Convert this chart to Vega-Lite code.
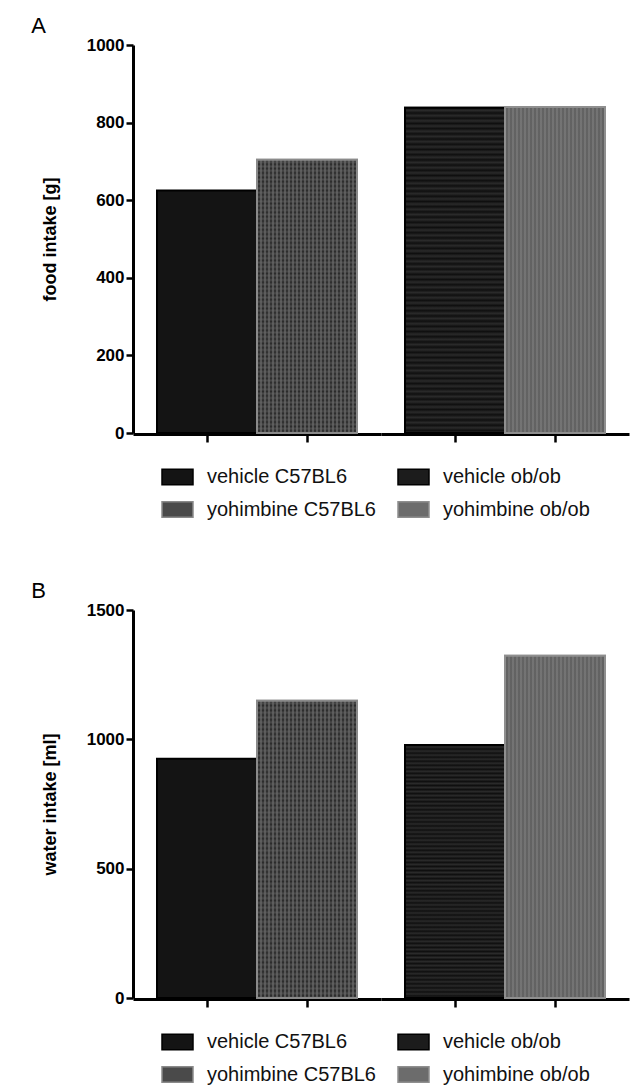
{
  "$schema": "https://vega.github.io/schema/vega-lite/v6.json",
  "background": "white",
  "padding": {"left": 31, "top": 15, "right": 2, "bottom": 0},
  "datasets": {
    "food": [
      {"strain": "C57BL6", "treatment": "vehicle", "group": "vehicle C57BL6", "value": 625},
      {"strain": "C57BL6", "treatment": "yohimbine", "group": "yohimbine C57BL6", "value": 704},
      {"strain": "ob/ob", "treatment": "vehicle", "group": "vehicle ob/ob", "value": 838},
      {"strain": "ob/ob", "treatment": "yohimbine", "group": "yohimbine ob/ob", "value": 840}
    ],
    "water": [
      {"strain": "C57BL6", "treatment": "vehicle", "group": "vehicle C57BL6", "value": 925},
      {"strain": "C57BL6", "treatment": "yohimbine", "group": "yohimbine C57BL6", "value": 1149},
      {"strain": "ob/ob", "treatment": "vehicle", "group": "vehicle ob/ob", "value": 978},
      {"strain": "ob/ob", "treatment": "yohimbine", "group": "yohimbine ob/ob", "value": 1323}
    ]
  },
  "vconcat": [
    {
      "data": {"name": "food"},
      "title": {"text": "A", "anchor": "start", "fontSize": 22, "fontWeight": "normal", "font": "Liberation Sans", "dx": -10, "offset": -2},
      "facet": {
        "column": {"field": "strain", "type": "nominal", "sort": ["C57BL6", "ob/ob"], "header": {"title": null, "labels": false}}
      },
      "spacing": 0,
      "spec": {
        "width": 248,
        "height": 388,
        "encoding": {
          "x": {"field": "treatment", "type": "nominal", "sort": ["vehicle", "yohimbine"], "scale": {"paddingInner": 0, "paddingOuter": 0.24},
                "axis": {"labels": false, "title": null, "ticks": true, "tickSize": 8, "tickWidth": 2.5, "domainWidth": 3}},
          "y": {"field": "value", "type": "quantitative", "scale": {"domain": [0, 1000], "nice": false},
                "axis": {"title": "food intake [g]", "values": [0, 200, 400, 600, 800, 1000], "format": "d"}}
        },
        "layer": [
          {
            "mark": {"type": "bar", "strokeWidth": 2},
            "encoding": {
              "fill": {"field": "group", "type": "nominal",
                       "scale": {"domain": ["vehicle C57BL6", "yohimbine C57BL6", "vehicle ob/ob", "yohimbine ob/ob"],
                                 "range": ["#141414", "#4a4a4a", "#1c1c1c", "#6c6c6c"]},
                       "legend": {"title": null, "orient": "none", "legendX": 28, "legendY": 415}},
              "stroke": {"field": "group", "type": "nominal",
                         "scale": {"domain": ["vehicle C57BL6", "yohimbine C57BL6", "vehicle ob/ob", "yohimbine ob/ob"],
                                   "range": ["#000000", "#8a8a8a", "#000000", "#8f8f8f"]},
                         "legend": {"title": null, "orient": "none", "legendX": 28, "legendY": 415}}
            }
          },
          {
            "transform": [{"filter": "datum.group === 'yohimbine C57BL6'"}],
            "mark": {"type": "bar", "strokeWidth": 0, "fill": {"gradient": "linear", "x1": 0, "y1": 0, "x2": 1, "y2": 0, "stops": [
              {"offset": 0, "color": "#6a6a6a"}, {"offset": 0.02, "color": "#161616"}, {"offset": 0.04, "color": "#6a6a6a"}, {"offset": 0.06, "color": "#161616"}, {"offset": 0.08, "color": "#6a6a6a"}, {"offset": 0.1, "color": "#161616"}, {"offset": 0.12, "color": "#6a6a6a"}, {"offset": 0.14, "color": "#161616"}, {"offset": 0.16, "color": "#6a6a6a"}, {"offset": 0.18, "color": "#161616"}, {"offset": 0.2, "color": "#6a6a6a"}, {"offset": 0.22, "color": "#161616"}, {"offset": 0.24, "color": "#6a6a6a"}, {"offset": 0.26, "color": "#161616"}, {"offset": 0.28, "color": "#6a6a6a"}, {"offset": 0.3, "color": "#161616"}, {"offset": 0.32, "color": "#6a6a6a"}, {"offset": 0.34, "color": "#161616"}, {"offset": 0.36, "color": "#6a6a6a"}, {"offset": 0.38, "color": "#161616"}, {"offset": 0.4, "color": "#6a6a6a"}, {"offset": 0.42, "color": "#161616"}, {"offset": 0.44, "color": "#6a6a6a"}, {"offset": 0.46, "color": "#161616"}, {"offset": 0.48, "color": "#6a6a6a"}, {"offset": 0.5, "color": "#161616"}, {"offset": 0.52, "color": "#6a6a6a"}, {"offset": 0.54, "color": "#161616"}, {"offset": 0.56, "color": "#6a6a6a"}, {"offset": 0.58, "color": "#161616"}, {"offset": 0.6, "color": "#6a6a6a"}, {"offset": 0.62, "color": "#161616"}, {"offset": 0.64, "color": "#6a6a6a"}, {"offset": 0.66, "color": "#161616"}, {"offset": 0.68, "color": "#6a6a6a"}, {"offset": 0.7, "color": "#161616"}, {"offset": 0.72, "color": "#6a6a6a"}, {"offset": 0.74, "color": "#161616"}, {"offset": 0.76, "color": "#6a6a6a"}, {"offset": 0.78, "color": "#161616"}, {"offset": 0.8, "color": "#6a6a6a"}, {"offset": 0.82, "color": "#161616"}, {"offset": 0.84, "color": "#6a6a6a"}, {"offset": 0.86, "color": "#161616"}, {"offset": 0.88, "color": "#6a6a6a"}, {"offset": 0.9, "color": "#161616"}, {"offset": 0.92, "color": "#6a6a6a"}, {"offset": 0.94, "color": "#161616"}, {"offset": 0.96, "color": "#6a6a6a"}, {"offset": 0.98, "color": "#161616"}, {"offset": 1, "color": "#6a6a6a"}
            ]}}
          },
          {
            "transform": [{"filter": "datum.group === 'yohimbine C57BL6'"}],
            "mark": {"type": "bar", "strokeWidth": 2, "stroke": "#8a8a8a", "fill": {"gradient": "linear", "x1": 0, "y1": 0, "x2": 0, "y2": 1, "stops": [
              {"offset": 0, "color": "rgba(106,106,106,0)"}, {"offset": 0.008, "color": "rgba(106,106,106,0.5)"}, {"offset": 0.016, "color": "rgba(106,106,106,0)"}, {"offset": 0.024, "color": "rgba(106,106,106,0.5)"}, {"offset": 0.032, "color": "rgba(106,106,106,0)"}, {"offset": 0.04, "color": "rgba(106,106,106,0.5)"}, {"offset": 0.048, "color": "rgba(106,106,106,0)"}, {"offset": 0.056, "color": "rgba(106,106,106,0.5)"}, {"offset": 0.064, "color": "rgba(106,106,106,0)"}, {"offset": 0.072, "color": "rgba(106,106,106,0.5)"}, {"offset": 0.08, "color": "rgba(106,106,106,0)"}, {"offset": 0.088, "color": "rgba(106,106,106,0.5)"}, {"offset": 0.096, "color": "rgba(106,106,106,0)"}, {"offset": 0.104, "color": "rgba(106,106,106,0.5)"}, {"offset": 0.112, "color": "rgba(106,106,106,0)"}, {"offset": 0.12, "color": "rgba(106,106,106,0.5)"}, {"offset": 0.128, "color": "rgba(106,106,106,0)"}, {"offset": 0.136, "color": "rgba(106,106,106,0.5)"}, {"offset": 0.144, "color": "rgba(106,106,106,0)"}, {"offset": 0.152, "color": "rgba(106,106,106,0.5)"}, {"offset": 0.16, "color": "rgba(106,106,106,0)"}, {"offset": 0.168, "color": "rgba(106,106,106,0.5)"}, {"offset": 0.176, "color": "rgba(106,106,106,0)"}, {"offset": 0.184, "color": "rgba(106,106,106,0.5)"}, {"offset": 0.192, "color": "rgba(106,106,106,0)"},
              {"offset": 0.2, "color": "rgba(106,106,106,0.5)"}, {"offset": 0.208, "color": "rgba(106,106,106,0)"}, {"offset": 0.216, "color": "rgba(106,106,106,0.5)"}, {"offset": 0.224, "color": "rgba(106,106,106,0)"}, {"offset": 0.232, "color": "rgba(106,106,106,0.5)"}, {"offset": 0.24, "color": "rgba(106,106,106,0)"}, {"offset": 0.248, "color": "rgba(106,106,106,0.5)"}, {"offset": 0.256, "color": "rgba(106,106,106,0)"}, {"offset": 0.264, "color": "rgba(106,106,106,0.5)"}, {"offset": 0.272, "color": "rgba(106,106,106,0)"}, {"offset": 0.28, "color": "rgba(106,106,106,0.5)"}, {"offset": 0.288, "color": "rgba(106,106,106,0)"}, {"offset": 0.296, "color": "rgba(106,106,106,0.5)"}, {"offset": 0.304, "color": "rgba(106,106,106,0)"}, {"offset": 0.312, "color": "rgba(106,106,106,0.5)"}, {"offset": 0.32, "color": "rgba(106,106,106,0)"}, {"offset": 0.328, "color": "rgba(106,106,106,0.5)"}, {"offset": 0.336, "color": "rgba(106,106,106,0)"}, {"offset": 0.344, "color": "rgba(106,106,106,0.5)"}, {"offset": 0.352, "color": "rgba(106,106,106,0)"}, {"offset": 0.36, "color": "rgba(106,106,106,0.5)"}, {"offset": 0.368, "color": "rgba(106,106,106,0)"}, {"offset": 0.376, "color": "rgba(106,106,106,0.5)"}, {"offset": 0.384, "color": "rgba(106,106,106,0)"}, {"offset": 0.392, "color": "rgba(106,106,106,0.5)"},
              {"offset": 0.4, "color": "rgba(106,106,106,0)"}, {"offset": 0.408, "color": "rgba(106,106,106,0.5)"}, {"offset": 0.416, "color": "rgba(106,106,106,0)"}, {"offset": 0.424, "color": "rgba(106,106,106,0.5)"}, {"offset": 0.432, "color": "rgba(106,106,106,0)"}, {"offset": 0.44, "color": "rgba(106,106,106,0.5)"}, {"offset": 0.448, "color": "rgba(106,106,106,0)"}, {"offset": 0.456, "color": "rgba(106,106,106,0.5)"}, {"offset": 0.464, "color": "rgba(106,106,106,0)"}, {"offset": 0.472, "color": "rgba(106,106,106,0.5)"}, {"offset": 0.48, "color": "rgba(106,106,106,0)"}, {"offset": 0.488, "color": "rgba(106,106,106,0.5)"}, {"offset": 0.496, "color": "rgba(106,106,106,0)"}, {"offset": 0.504, "color": "rgba(106,106,106,0.5)"}, {"offset": 0.512, "color": "rgba(106,106,106,0)"}, {"offset": 0.52, "color": "rgba(106,106,106,0.5)"}, {"offset": 0.528, "color": "rgba(106,106,106,0)"}, {"offset": 0.536, "color": "rgba(106,106,106,0.5)"}, {"offset": 0.544, "color": "rgba(106,106,106,0)"}, {"offset": 0.552, "color": "rgba(106,106,106,0.5)"}, {"offset": 0.56, "color": "rgba(106,106,106,0)"}, {"offset": 0.568, "color": "rgba(106,106,106,0.5)"}, {"offset": 0.576, "color": "rgba(106,106,106,0)"}, {"offset": 0.584, "color": "rgba(106,106,106,0.5)"}, {"offset": 0.592, "color": "rgba(106,106,106,0)"},
              {"offset": 0.6, "color": "rgba(106,106,106,0.5)"}, {"offset": 0.608, "color": "rgba(106,106,106,0)"}, {"offset": 0.616, "color": "rgba(106,106,106,0.5)"}, {"offset": 0.624, "color": "rgba(106,106,106,0)"}, {"offset": 0.632, "color": "rgba(106,106,106,0.5)"}, {"offset": 0.64, "color": "rgba(106,106,106,0)"}, {"offset": 0.648, "color": "rgba(106,106,106,0.5)"}, {"offset": 0.656, "color": "rgba(106,106,106,0)"}, {"offset": 0.664, "color": "rgba(106,106,106,0.5)"}, {"offset": 0.672, "color": "rgba(106,106,106,0)"}, {"offset": 0.68, "color": "rgba(106,106,106,0.5)"}, {"offset": 0.688, "color": "rgba(106,106,106,0)"}, {"offset": 0.696, "color": "rgba(106,106,106,0.5)"}, {"offset": 0.704, "color": "rgba(106,106,106,0)"}, {"offset": 0.712, "color": "rgba(106,106,106,0.5)"}, {"offset": 0.72, "color": "rgba(106,106,106,0)"}, {"offset": 0.728, "color": "rgba(106,106,106,0.5)"}, {"offset": 0.736, "color": "rgba(106,106,106,0)"}, {"offset": 0.744, "color": "rgba(106,106,106,0.5)"}, {"offset": 0.752, "color": "rgba(106,106,106,0)"}, {"offset": 0.76, "color": "rgba(106,106,106,0.5)"}, {"offset": 0.768, "color": "rgba(106,106,106,0)"}, {"offset": 0.776, "color": "rgba(106,106,106,0.5)"}, {"offset": 0.784, "color": "rgba(106,106,106,0)"}, {"offset": 0.792, "color": "rgba(106,106,106,0.5)"},
              {"offset": 0.8, "color": "rgba(106,106,106,0)"}, {"offset": 0.808, "color": "rgba(106,106,106,0.5)"}, {"offset": 0.816, "color": "rgba(106,106,106,0)"}, {"offset": 0.824, "color": "rgba(106,106,106,0.5)"}, {"offset": 0.832, "color": "rgba(106,106,106,0)"}, {"offset": 0.84, "color": "rgba(106,106,106,0.5)"}, {"offset": 0.848, "color": "rgba(106,106,106,0)"}, {"offset": 0.856, "color": "rgba(106,106,106,0.5)"}, {"offset": 0.864, "color": "rgba(106,106,106,0)"}, {"offset": 0.872, "color": "rgba(106,106,106,0.5)"}, {"offset": 0.88, "color": "rgba(106,106,106,0)"}, {"offset": 0.888, "color": "rgba(106,106,106,0.5)"}, {"offset": 0.896, "color": "rgba(106,106,106,0)"}, {"offset": 0.904, "color": "rgba(106,106,106,0.5)"}, {"offset": 0.912, "color": "rgba(106,106,106,0)"}, {"offset": 0.92, "color": "rgba(106,106,106,0.5)"}, {"offset": 0.928, "color": "rgba(106,106,106,0)"}, {"offset": 0.936, "color": "rgba(106,106,106,0.5)"}, {"offset": 0.944, "color": "rgba(106,106,106,0)"}, {"offset": 0.952, "color": "rgba(106,106,106,0.5)"}, {"offset": 0.96, "color": "rgba(106,106,106,0)"}, {"offset": 0.968, "color": "rgba(106,106,106,0.5)"}, {"offset": 0.976, "color": "rgba(106,106,106,0)"}, {"offset": 0.984, "color": "rgba(106,106,106,0.5)"}, {"offset": 0.992, "color": "rgba(106,106,106,0)"},
              {"offset": 1, "color": "rgba(106,106,106,0.5)"}
            ]}}
          },
          {
            "transform": [{"filter": "datum.group === 'vehicle ob/ob'"}],
            "mark": {"type": "bar", "strokeWidth": 2, "stroke": "#000000", "fill": {"gradient": "linear", "x1": 0, "y1": 0, "x2": 0, "y2": 1, "stops": [
              {"offset": 0, "color": "#0f0f0f"}, {"offset": 0.008, "color": "#2a2a2a"}, {"offset": 0.016, "color": "#0f0f0f"}, {"offset": 0.024, "color": "#2a2a2a"}, {"offset": 0.032, "color": "#0f0f0f"}, {"offset": 0.04, "color": "#2a2a2a"}, {"offset": 0.048, "color": "#0f0f0f"}, {"offset": 0.056, "color": "#2a2a2a"}, {"offset": 0.064, "color": "#0f0f0f"}, {"offset": 0.072, "color": "#2a2a2a"}, {"offset": 0.08, "color": "#0f0f0f"}, {"offset": 0.088, "color": "#2a2a2a"}, {"offset": 0.096, "color": "#0f0f0f"}, {"offset": 0.104, "color": "#2a2a2a"}, {"offset": 0.112, "color": "#0f0f0f"}, {"offset": 0.12, "color": "#2a2a2a"}, {"offset": 0.128, "color": "#0f0f0f"}, {"offset": 0.136, "color": "#2a2a2a"}, {"offset": 0.144, "color": "#0f0f0f"}, {"offset": 0.152, "color": "#2a2a2a"}, {"offset": 0.16, "color": "#0f0f0f"}, {"offset": 0.168, "color": "#2a2a2a"}, {"offset": 0.176, "color": "#0f0f0f"}, {"offset": 0.184, "color": "#2a2a2a"}, {"offset": 0.192, "color": "#0f0f0f"},
              {"offset": 0.2, "color": "#2a2a2a"}, {"offset": 0.208, "color": "#0f0f0f"}, {"offset": 0.216, "color": "#2a2a2a"}, {"offset": 0.224, "color": "#0f0f0f"}, {"offset": 0.232, "color": "#2a2a2a"}, {"offset": 0.24, "color": "#0f0f0f"}, {"offset": 0.248, "color": "#2a2a2a"}, {"offset": 0.256, "color": "#0f0f0f"}, {"offset": 0.264, "color": "#2a2a2a"}, {"offset": 0.272, "color": "#0f0f0f"}, {"offset": 0.28, "color": "#2a2a2a"}, {"offset": 0.288, "color": "#0f0f0f"}, {"offset": 0.296, "color": "#2a2a2a"}, {"offset": 0.304, "color": "#0f0f0f"}, {"offset": 0.312, "color": "#2a2a2a"}, {"offset": 0.32, "color": "#0f0f0f"}, {"offset": 0.328, "color": "#2a2a2a"}, {"offset": 0.336, "color": "#0f0f0f"}, {"offset": 0.344, "color": "#2a2a2a"}, {"offset": 0.352, "color": "#0f0f0f"}, {"offset": 0.36, "color": "#2a2a2a"}, {"offset": 0.368, "color": "#0f0f0f"}, {"offset": 0.376, "color": "#2a2a2a"}, {"offset": 0.384, "color": "#0f0f0f"}, {"offset": 0.392, "color": "#2a2a2a"},
              {"offset": 0.4, "color": "#0f0f0f"}, {"offset": 0.408, "color": "#2a2a2a"}, {"offset": 0.416, "color": "#0f0f0f"}, {"offset": 0.424, "color": "#2a2a2a"}, {"offset": 0.432, "color": "#0f0f0f"}, {"offset": 0.44, "color": "#2a2a2a"}, {"offset": 0.448, "color": "#0f0f0f"}, {"offset": 0.456, "color": "#2a2a2a"}, {"offset": 0.464, "color": "#0f0f0f"}, {"offset": 0.472, "color": "#2a2a2a"}, {"offset": 0.48, "color": "#0f0f0f"}, {"offset": 0.488, "color": "#2a2a2a"}, {"offset": 0.496, "color": "#0f0f0f"}, {"offset": 0.504, "color": "#2a2a2a"}, {"offset": 0.512, "color": "#0f0f0f"}, {"offset": 0.52, "color": "#2a2a2a"}, {"offset": 0.528, "color": "#0f0f0f"}, {"offset": 0.536, "color": "#2a2a2a"}, {"offset": 0.544, "color": "#0f0f0f"}, {"offset": 0.552, "color": "#2a2a2a"}, {"offset": 0.56, "color": "#0f0f0f"}, {"offset": 0.568, "color": "#2a2a2a"}, {"offset": 0.576, "color": "#0f0f0f"}, {"offset": 0.584, "color": "#2a2a2a"}, {"offset": 0.592, "color": "#0f0f0f"},
              {"offset": 0.6, "color": "#2a2a2a"}, {"offset": 0.608, "color": "#0f0f0f"}, {"offset": 0.616, "color": "#2a2a2a"}, {"offset": 0.624, "color": "#0f0f0f"}, {"offset": 0.632, "color": "#2a2a2a"}, {"offset": 0.64, "color": "#0f0f0f"}, {"offset": 0.648, "color": "#2a2a2a"}, {"offset": 0.656, "color": "#0f0f0f"}, {"offset": 0.664, "color": "#2a2a2a"}, {"offset": 0.672, "color": "#0f0f0f"}, {"offset": 0.68, "color": "#2a2a2a"}, {"offset": 0.688, "color": "#0f0f0f"}, {"offset": 0.696, "color": "#2a2a2a"}, {"offset": 0.704, "color": "#0f0f0f"}, {"offset": 0.712, "color": "#2a2a2a"}, {"offset": 0.72, "color": "#0f0f0f"}, {"offset": 0.728, "color": "#2a2a2a"}, {"offset": 0.736, "color": "#0f0f0f"}, {"offset": 0.744, "color": "#2a2a2a"}, {"offset": 0.752, "color": "#0f0f0f"}, {"offset": 0.76, "color": "#2a2a2a"}, {"offset": 0.768, "color": "#0f0f0f"}, {"offset": 0.776, "color": "#2a2a2a"}, {"offset": 0.784, "color": "#0f0f0f"}, {"offset": 0.792, "color": "#2a2a2a"},
              {"offset": 0.8, "color": "#0f0f0f"}, {"offset": 0.808, "color": "#2a2a2a"}, {"offset": 0.816, "color": "#0f0f0f"}, {"offset": 0.824, "color": "#2a2a2a"}, {"offset": 0.832, "color": "#0f0f0f"}, {"offset": 0.84, "color": "#2a2a2a"}, {"offset": 0.848, "color": "#0f0f0f"}, {"offset": 0.856, "color": "#2a2a2a"}, {"offset": 0.864, "color": "#0f0f0f"}, {"offset": 0.872, "color": "#2a2a2a"}, {"offset": 0.88, "color": "#0f0f0f"}, {"offset": 0.888, "color": "#2a2a2a"}, {"offset": 0.896, "color": "#0f0f0f"}, {"offset": 0.904, "color": "#2a2a2a"}, {"offset": 0.912, "color": "#0f0f0f"}, {"offset": 0.92, "color": "#2a2a2a"}, {"offset": 0.928, "color": "#0f0f0f"}, {"offset": 0.936, "color": "#2a2a2a"}, {"offset": 0.944, "color": "#0f0f0f"}, {"offset": 0.952, "color": "#2a2a2a"}, {"offset": 0.96, "color": "#0f0f0f"}, {"offset": 0.968, "color": "#2a2a2a"}, {"offset": 0.976, "color": "#0f0f0f"}, {"offset": 0.984, "color": "#2a2a2a"}, {"offset": 0.992, "color": "#0f0f0f"},
              {"offset": 1, "color": "#2a2a2a"}
            ]}}
          },
          {
            "transform": [{"filter": "datum.group === 'yohimbine ob/ob'"}],
            "mark": {"type": "bar", "strokeWidth": 2, "stroke": "#8f8f8f", "fill": {"gradient": "linear", "x1": 0, "y1": 0, "x2": 1, "y2": 0, "stops": [
              {"offset": 0, "color": "#7c7c7c"}, {"offset": 0.02, "color": "#5a5a5a"}, {"offset": 0.04, "color": "#7c7c7c"}, {"offset": 0.06, "color": "#5a5a5a"}, {"offset": 0.08, "color": "#7c7c7c"}, {"offset": 0.1, "color": "#5a5a5a"}, {"offset": 0.12, "color": "#7c7c7c"}, {"offset": 0.14, "color": "#5a5a5a"}, {"offset": 0.16, "color": "#7c7c7c"}, {"offset": 0.18, "color": "#5a5a5a"}, {"offset": 0.2, "color": "#7c7c7c"}, {"offset": 0.22, "color": "#5a5a5a"}, {"offset": 0.24, "color": "#7c7c7c"}, {"offset": 0.26, "color": "#5a5a5a"}, {"offset": 0.28, "color": "#7c7c7c"}, {"offset": 0.3, "color": "#5a5a5a"}, {"offset": 0.32, "color": "#7c7c7c"}, {"offset": 0.34, "color": "#5a5a5a"}, {"offset": 0.36, "color": "#7c7c7c"}, {"offset": 0.38, "color": "#5a5a5a"}, {"offset": 0.4, "color": "#7c7c7c"}, {"offset": 0.42, "color": "#5a5a5a"}, {"offset": 0.44, "color": "#7c7c7c"}, {"offset": 0.46, "color": "#5a5a5a"}, {"offset": 0.48, "color": "#7c7c7c"}, {"offset": 0.5, "color": "#5a5a5a"}, {"offset": 0.52, "color": "#7c7c7c"}, {"offset": 0.54, "color": "#5a5a5a"}, {"offset": 0.56, "color": "#7c7c7c"}, {"offset": 0.58, "color": "#5a5a5a"}, {"offset": 0.6, "color": "#7c7c7c"}, {"offset": 0.62, "color": "#5a5a5a"}, {"offset": 0.64, "color": "#7c7c7c"}, {"offset": 0.66, "color": "#5a5a5a"}, {"offset": 0.68, "color": "#7c7c7c"}, {"offset": 0.7, "color": "#5a5a5a"}, {"offset": 0.72, "color": "#7c7c7c"}, {"offset": 0.74, "color": "#5a5a5a"}, {"offset": 0.76, "color": "#7c7c7c"}, {"offset": 0.78, "color": "#5a5a5a"}, {"offset": 0.8, "color": "#7c7c7c"}, {"offset": 0.82, "color": "#5a5a5a"}, {"offset": 0.84, "color": "#7c7c7c"}, {"offset": 0.86, "color": "#5a5a5a"}, {"offset": 0.88, "color": "#7c7c7c"}, {"offset": 0.9, "color": "#5a5a5a"}, {"offset": 0.92, "color": "#7c7c7c"}, {"offset": 0.94, "color": "#5a5a5a"}, {"offset": 0.96, "color": "#7c7c7c"}, {"offset": 0.98, "color": "#5a5a5a"}, {"offset": 1, "color": "#7c7c7c"}
            ]}}
          }
        ]
      }
    },
    {
      "data": {"name": "water"},
      "title": {"text": "B", "anchor": "start", "fontSize": 22, "fontWeight": "normal", "font": "Liberation Sans", "dx": -10, "offset": -2},
      "facet": {
        "column": {"field": "strain", "type": "nominal", "sort": ["C57BL6", "ob/ob"], "header": {"title": null, "labels": false}}
      },
      "spacing": 0,
      "spec": {
        "width": 248,
        "height": 388,
        "encoding": {
          "x": {"field": "treatment", "type": "nominal", "sort": ["vehicle", "yohimbine"], "scale": {"paddingInner": 0, "paddingOuter": 0.24},
                "axis": {"labels": false, "title": null, "ticks": true, "tickSize": 8, "tickWidth": 2.5, "domainWidth": 3}},
          "y": {"field": "value", "type": "quantitative", "scale": {"domain": [0, 1500], "nice": false},
                "axis": {"title": "water intake [ml]", "values": [0, 500, 1000, 1500], "format": "d"}}
        },
        "layer": [
          {
            "mark": {"type": "bar", "strokeWidth": 2},
            "encoding": {
              "fill": {"field": "group", "type": "nominal",
                       "scale": {"domain": ["vehicle C57BL6", "yohimbine C57BL6", "vehicle ob/ob", "yohimbine ob/ob"],
                                 "range": ["#141414", "#4a4a4a", "#1c1c1c", "#6c6c6c"]},
                       "legend": {"title": null, "orient": "none", "legendX": 28, "legendY": 415}},
              "stroke": {"field": "group", "type": "nominal",
                         "scale": {"domain": ["vehicle C57BL6", "yohimbine C57BL6", "vehicle ob/ob", "yohimbine ob/ob"],
                                   "range": ["#000000", "#8a8a8a", "#000000", "#8f8f8f"]},
                         "legend": {"title": null, "orient": "none", "legendX": 28, "legendY": 415}}
            }
          },
          {
            "transform": [{"filter": "datum.group === 'yohimbine C57BL6'"}],
            "mark": {"type": "bar", "strokeWidth": 0, "fill": {"gradient": "linear", "x1": 0, "y1": 0, "x2": 1, "y2": 0, "stops": [
              {"offset": 0, "color": "#6a6a6a"}, {"offset": 0.02, "color": "#161616"}, {"offset": 0.04, "color": "#6a6a6a"}, {"offset": 0.06, "color": "#161616"}, {"offset": 0.08, "color": "#6a6a6a"}, {"offset": 0.1, "color": "#161616"}, {"offset": 0.12, "color": "#6a6a6a"}, {"offset": 0.14, "color": "#161616"}, {"offset": 0.16, "color": "#6a6a6a"}, {"offset": 0.18, "color": "#161616"}, {"offset": 0.2, "color": "#6a6a6a"}, {"offset": 0.22, "color": "#161616"}, {"offset": 0.24, "color": "#6a6a6a"}, {"offset": 0.26, "color": "#161616"}, {"offset": 0.28, "color": "#6a6a6a"}, {"offset": 0.3, "color": "#161616"}, {"offset": 0.32, "color": "#6a6a6a"}, {"offset": 0.34, "color": "#161616"}, {"offset": 0.36, "color": "#6a6a6a"}, {"offset": 0.38, "color": "#161616"}, {"offset": 0.4, "color": "#6a6a6a"}, {"offset": 0.42, "color": "#161616"}, {"offset": 0.44, "color": "#6a6a6a"}, {"offset": 0.46, "color": "#161616"}, {"offset": 0.48, "color": "#6a6a6a"}, {"offset": 0.5, "color": "#161616"}, {"offset": 0.52, "color": "#6a6a6a"}, {"offset": 0.54, "color": "#161616"}, {"offset": 0.56, "color": "#6a6a6a"}, {"offset": 0.58, "color": "#161616"}, {"offset": 0.6, "color": "#6a6a6a"}, {"offset": 0.62, "color": "#161616"}, {"offset": 0.64, "color": "#6a6a6a"}, {"offset": 0.66, "color": "#161616"}, {"offset": 0.68, "color": "#6a6a6a"}, {"offset": 0.7, "color": "#161616"}, {"offset": 0.72, "color": "#6a6a6a"}, {"offset": 0.74, "color": "#161616"}, {"offset": 0.76, "color": "#6a6a6a"}, {"offset": 0.78, "color": "#161616"}, {"offset": 0.8, "color": "#6a6a6a"}, {"offset": 0.82, "color": "#161616"}, {"offset": 0.84, "color": "#6a6a6a"}, {"offset": 0.86, "color": "#161616"}, {"offset": 0.88, "color": "#6a6a6a"}, {"offset": 0.9, "color": "#161616"}, {"offset": 0.92, "color": "#6a6a6a"}, {"offset": 0.94, "color": "#161616"}, {"offset": 0.96, "color": "#6a6a6a"}, {"offset": 0.98, "color": "#161616"}, {"offset": 1, "color": "#6a6a6a"}
            ]}}
          },
          {
            "transform": [{"filter": "datum.group === 'yohimbine C57BL6'"}],
            "mark": {"type": "bar", "strokeWidth": 2, "stroke": "#8a8a8a", "fill": {"gradient": "linear", "x1": 0, "y1": 0, "x2": 0, "y2": 1, "stops": [
              {"offset": 0, "color": "rgba(106,106,106,0)"}, {"offset": 0.008, "color": "rgba(106,106,106,0.5)"}, {"offset": 0.016, "color": "rgba(106,106,106,0)"}, {"offset": 0.024, "color": "rgba(106,106,106,0.5)"}, {"offset": 0.032, "color": "rgba(106,106,106,0)"}, {"offset": 0.04, "color": "rgba(106,106,106,0.5)"}, {"offset": 0.048, "color": "rgba(106,106,106,0)"}, {"offset": 0.056, "color": "rgba(106,106,106,0.5)"}, {"offset": 0.064, "color": "rgba(106,106,106,0)"}, {"offset": 0.072, "color": "rgba(106,106,106,0.5)"}, {"offset": 0.08, "color": "rgba(106,106,106,0)"}, {"offset": 0.088, "color": "rgba(106,106,106,0.5)"}, {"offset": 0.096, "color": "rgba(106,106,106,0)"}, {"offset": 0.104, "color": "rgba(106,106,106,0.5)"}, {"offset": 0.112, "color": "rgba(106,106,106,0)"}, {"offset": 0.12, "color": "rgba(106,106,106,0.5)"}, {"offset": 0.128, "color": "rgba(106,106,106,0)"}, {"offset": 0.136, "color": "rgba(106,106,106,0.5)"}, {"offset": 0.144, "color": "rgba(106,106,106,0)"}, {"offset": 0.152, "color": "rgba(106,106,106,0.5)"}, {"offset": 0.16, "color": "rgba(106,106,106,0)"}, {"offset": 0.168, "color": "rgba(106,106,106,0.5)"}, {"offset": 0.176, "color": "rgba(106,106,106,0)"}, {"offset": 0.184, "color": "rgba(106,106,106,0.5)"}, {"offset": 0.192, "color": "rgba(106,106,106,0)"},
              {"offset": 0.2, "color": "rgba(106,106,106,0.5)"}, {"offset": 0.208, "color": "rgba(106,106,106,0)"}, {"offset": 0.216, "color": "rgba(106,106,106,0.5)"}, {"offset": 0.224, "color": "rgba(106,106,106,0)"}, {"offset": 0.232, "color": "rgba(106,106,106,0.5)"}, {"offset": 0.24, "color": "rgba(106,106,106,0)"}, {"offset": 0.248, "color": "rgba(106,106,106,0.5)"}, {"offset": 0.256, "color": "rgba(106,106,106,0)"}, {"offset": 0.264, "color": "rgba(106,106,106,0.5)"}, {"offset": 0.272, "color": "rgba(106,106,106,0)"}, {"offset": 0.28, "color": "rgba(106,106,106,0.5)"}, {"offset": 0.288, "color": "rgba(106,106,106,0)"}, {"offset": 0.296, "color": "rgba(106,106,106,0.5)"}, {"offset": 0.304, "color": "rgba(106,106,106,0)"}, {"offset": 0.312, "color": "rgba(106,106,106,0.5)"}, {"offset": 0.32, "color": "rgba(106,106,106,0)"}, {"offset": 0.328, "color": "rgba(106,106,106,0.5)"}, {"offset": 0.336, "color": "rgba(106,106,106,0)"}, {"offset": 0.344, "color": "rgba(106,106,106,0.5)"}, {"offset": 0.352, "color": "rgba(106,106,106,0)"}, {"offset": 0.36, "color": "rgba(106,106,106,0.5)"}, {"offset": 0.368, "color": "rgba(106,106,106,0)"}, {"offset": 0.376, "color": "rgba(106,106,106,0.5)"}, {"offset": 0.384, "color": "rgba(106,106,106,0)"}, {"offset": 0.392, "color": "rgba(106,106,106,0.5)"},
              {"offset": 0.4, "color": "rgba(106,106,106,0)"}, {"offset": 0.408, "color": "rgba(106,106,106,0.5)"}, {"offset": 0.416, "color": "rgba(106,106,106,0)"}, {"offset": 0.424, "color": "rgba(106,106,106,0.5)"}, {"offset": 0.432, "color": "rgba(106,106,106,0)"}, {"offset": 0.44, "color": "rgba(106,106,106,0.5)"}, {"offset": 0.448, "color": "rgba(106,106,106,0)"}, {"offset": 0.456, "color": "rgba(106,106,106,0.5)"}, {"offset": 0.464, "color": "rgba(106,106,106,0)"}, {"offset": 0.472, "color": "rgba(106,106,106,0.5)"}, {"offset": 0.48, "color": "rgba(106,106,106,0)"}, {"offset": 0.488, "color": "rgba(106,106,106,0.5)"}, {"offset": 0.496, "color": "rgba(106,106,106,0)"}, {"offset": 0.504, "color": "rgba(106,106,106,0.5)"}, {"offset": 0.512, "color": "rgba(106,106,106,0)"}, {"offset": 0.52, "color": "rgba(106,106,106,0.5)"}, {"offset": 0.528, "color": "rgba(106,106,106,0)"}, {"offset": 0.536, "color": "rgba(106,106,106,0.5)"}, {"offset": 0.544, "color": "rgba(106,106,106,0)"}, {"offset": 0.552, "color": "rgba(106,106,106,0.5)"}, {"offset": 0.56, "color": "rgba(106,106,106,0)"}, {"offset": 0.568, "color": "rgba(106,106,106,0.5)"}, {"offset": 0.576, "color": "rgba(106,106,106,0)"}, {"offset": 0.584, "color": "rgba(106,106,106,0.5)"}, {"offset": 0.592, "color": "rgba(106,106,106,0)"},
              {"offset": 0.6, "color": "rgba(106,106,106,0.5)"}, {"offset": 0.608, "color": "rgba(106,106,106,0)"}, {"offset": 0.616, "color": "rgba(106,106,106,0.5)"}, {"offset": 0.624, "color": "rgba(106,106,106,0)"}, {"offset": 0.632, "color": "rgba(106,106,106,0.5)"}, {"offset": 0.64, "color": "rgba(106,106,106,0)"}, {"offset": 0.648, "color": "rgba(106,106,106,0.5)"}, {"offset": 0.656, "color": "rgba(106,106,106,0)"}, {"offset": 0.664, "color": "rgba(106,106,106,0.5)"}, {"offset": 0.672, "color": "rgba(106,106,106,0)"}, {"offset": 0.68, "color": "rgba(106,106,106,0.5)"}, {"offset": 0.688, "color": "rgba(106,106,106,0)"}, {"offset": 0.696, "color": "rgba(106,106,106,0.5)"}, {"offset": 0.704, "color": "rgba(106,106,106,0)"}, {"offset": 0.712, "color": "rgba(106,106,106,0.5)"}, {"offset": 0.72, "color": "rgba(106,106,106,0)"}, {"offset": 0.728, "color": "rgba(106,106,106,0.5)"}, {"offset": 0.736, "color": "rgba(106,106,106,0)"}, {"offset": 0.744, "color": "rgba(106,106,106,0.5)"}, {"offset": 0.752, "color": "rgba(106,106,106,0)"}, {"offset": 0.76, "color": "rgba(106,106,106,0.5)"}, {"offset": 0.768, "color": "rgba(106,106,106,0)"}, {"offset": 0.776, "color": "rgba(106,106,106,0.5)"}, {"offset": 0.784, "color": "rgba(106,106,106,0)"}, {"offset": 0.792, "color": "rgba(106,106,106,0.5)"},
              {"offset": 0.8, "color": "rgba(106,106,106,0)"}, {"offset": 0.808, "color": "rgba(106,106,106,0.5)"}, {"offset": 0.816, "color": "rgba(106,106,106,0)"}, {"offset": 0.824, "color": "rgba(106,106,106,0.5)"}, {"offset": 0.832, "color": "rgba(106,106,106,0)"}, {"offset": 0.84, "color": "rgba(106,106,106,0.5)"}, {"offset": 0.848, "color": "rgba(106,106,106,0)"}, {"offset": 0.856, "color": "rgba(106,106,106,0.5)"}, {"offset": 0.864, "color": "rgba(106,106,106,0)"}, {"offset": 0.872, "color": "rgba(106,106,106,0.5)"}, {"offset": 0.88, "color": "rgba(106,106,106,0)"}, {"offset": 0.888, "color": "rgba(106,106,106,0.5)"}, {"offset": 0.896, "color": "rgba(106,106,106,0)"}, {"offset": 0.904, "color": "rgba(106,106,106,0.5)"}, {"offset": 0.912, "color": "rgba(106,106,106,0)"}, {"offset": 0.92, "color": "rgba(106,106,106,0.5)"}, {"offset": 0.928, "color": "rgba(106,106,106,0)"}, {"offset": 0.936, "color": "rgba(106,106,106,0.5)"}, {"offset": 0.944, "color": "rgba(106,106,106,0)"}, {"offset": 0.952, "color": "rgba(106,106,106,0.5)"}, {"offset": 0.96, "color": "rgba(106,106,106,0)"}, {"offset": 0.968, "color": "rgba(106,106,106,0.5)"}, {"offset": 0.976, "color": "rgba(106,106,106,0)"}, {"offset": 0.984, "color": "rgba(106,106,106,0.5)"}, {"offset": 0.992, "color": "rgba(106,106,106,0)"},
              {"offset": 1, "color": "rgba(106,106,106,0.5)"}
            ]}}
          },
          {
            "transform": [{"filter": "datum.group === 'vehicle ob/ob'"}],
            "mark": {"type": "bar", "strokeWidth": 2, "stroke": "#000000", "fill": {"gradient": "linear", "x1": 0, "y1": 0, "x2": 0, "y2": 1, "stops": [
              {"offset": 0, "color": "#0f0f0f"}, {"offset": 0.008, "color": "#2a2a2a"}, {"offset": 0.016, "color": "#0f0f0f"}, {"offset": 0.024, "color": "#2a2a2a"}, {"offset": 0.032, "color": "#0f0f0f"}, {"offset": 0.04, "color": "#2a2a2a"}, {"offset": 0.048, "color": "#0f0f0f"}, {"offset": 0.056, "color": "#2a2a2a"}, {"offset": 0.064, "color": "#0f0f0f"}, {"offset": 0.072, "color": "#2a2a2a"}, {"offset": 0.08, "color": "#0f0f0f"}, {"offset": 0.088, "color": "#2a2a2a"}, {"offset": 0.096, "color": "#0f0f0f"}, {"offset": 0.104, "color": "#2a2a2a"}, {"offset": 0.112, "color": "#0f0f0f"}, {"offset": 0.12, "color": "#2a2a2a"}, {"offset": 0.128, "color": "#0f0f0f"}, {"offset": 0.136, "color": "#2a2a2a"}, {"offset": 0.144, "color": "#0f0f0f"}, {"offset": 0.152, "color": "#2a2a2a"}, {"offset": 0.16, "color": "#0f0f0f"}, {"offset": 0.168, "color": "#2a2a2a"}, {"offset": 0.176, "color": "#0f0f0f"}, {"offset": 0.184, "color": "#2a2a2a"}, {"offset": 0.192, "color": "#0f0f0f"},
              {"offset": 0.2, "color": "#2a2a2a"}, {"offset": 0.208, "color": "#0f0f0f"}, {"offset": 0.216, "color": "#2a2a2a"}, {"offset": 0.224, "color": "#0f0f0f"}, {"offset": 0.232, "color": "#2a2a2a"}, {"offset": 0.24, "color": "#0f0f0f"}, {"offset": 0.248, "color": "#2a2a2a"}, {"offset": 0.256, "color": "#0f0f0f"}, {"offset": 0.264, "color": "#2a2a2a"}, {"offset": 0.272, "color": "#0f0f0f"}, {"offset": 0.28, "color": "#2a2a2a"}, {"offset": 0.288, "color": "#0f0f0f"}, {"offset": 0.296, "color": "#2a2a2a"}, {"offset": 0.304, "color": "#0f0f0f"}, {"offset": 0.312, "color": "#2a2a2a"}, {"offset": 0.32, "color": "#0f0f0f"}, {"offset": 0.328, "color": "#2a2a2a"}, {"offset": 0.336, "color": "#0f0f0f"}, {"offset": 0.344, "color": "#2a2a2a"}, {"offset": 0.352, "color": "#0f0f0f"}, {"offset": 0.36, "color": "#2a2a2a"}, {"offset": 0.368, "color": "#0f0f0f"}, {"offset": 0.376, "color": "#2a2a2a"}, {"offset": 0.384, "color": "#0f0f0f"}, {"offset": 0.392, "color": "#2a2a2a"},
              {"offset": 0.4, "color": "#0f0f0f"}, {"offset": 0.408, "color": "#2a2a2a"}, {"offset": 0.416, "color": "#0f0f0f"}, {"offset": 0.424, "color": "#2a2a2a"}, {"offset": 0.432, "color": "#0f0f0f"}, {"offset": 0.44, "color": "#2a2a2a"}, {"offset": 0.448, "color": "#0f0f0f"}, {"offset": 0.456, "color": "#2a2a2a"}, {"offset": 0.464, "color": "#0f0f0f"}, {"offset": 0.472, "color": "#2a2a2a"}, {"offset": 0.48, "color": "#0f0f0f"}, {"offset": 0.488, "color": "#2a2a2a"}, {"offset": 0.496, "color": "#0f0f0f"}, {"offset": 0.504, "color": "#2a2a2a"}, {"offset": 0.512, "color": "#0f0f0f"}, {"offset": 0.52, "color": "#2a2a2a"}, {"offset": 0.528, "color": "#0f0f0f"}, {"offset": 0.536, "color": "#2a2a2a"}, {"offset": 0.544, "color": "#0f0f0f"}, {"offset": 0.552, "color": "#2a2a2a"}, {"offset": 0.56, "color": "#0f0f0f"}, {"offset": 0.568, "color": "#2a2a2a"}, {"offset": 0.576, "color": "#0f0f0f"}, {"offset": 0.584, "color": "#2a2a2a"}, {"offset": 0.592, "color": "#0f0f0f"},
              {"offset": 0.6, "color": "#2a2a2a"}, {"offset": 0.608, "color": "#0f0f0f"}, {"offset": 0.616, "color": "#2a2a2a"}, {"offset": 0.624, "color": "#0f0f0f"}, {"offset": 0.632, "color": "#2a2a2a"}, {"offset": 0.64, "color": "#0f0f0f"}, {"offset": 0.648, "color": "#2a2a2a"}, {"offset": 0.656, "color": "#0f0f0f"}, {"offset": 0.664, "color": "#2a2a2a"}, {"offset": 0.672, "color": "#0f0f0f"}, {"offset": 0.68, "color": "#2a2a2a"}, {"offset": 0.688, "color": "#0f0f0f"}, {"offset": 0.696, "color": "#2a2a2a"}, {"offset": 0.704, "color": "#0f0f0f"}, {"offset": 0.712, "color": "#2a2a2a"}, {"offset": 0.72, "color": "#0f0f0f"}, {"offset": 0.728, "color": "#2a2a2a"}, {"offset": 0.736, "color": "#0f0f0f"}, {"offset": 0.744, "color": "#2a2a2a"}, {"offset": 0.752, "color": "#0f0f0f"}, {"offset": 0.76, "color": "#2a2a2a"}, {"offset": 0.768, "color": "#0f0f0f"}, {"offset": 0.776, "color": "#2a2a2a"}, {"offset": 0.784, "color": "#0f0f0f"}, {"offset": 0.792, "color": "#2a2a2a"},
              {"offset": 0.8, "color": "#0f0f0f"}, {"offset": 0.808, "color": "#2a2a2a"}, {"offset": 0.816, "color": "#0f0f0f"}, {"offset": 0.824, "color": "#2a2a2a"}, {"offset": 0.832, "color": "#0f0f0f"}, {"offset": 0.84, "color": "#2a2a2a"}, {"offset": 0.848, "color": "#0f0f0f"}, {"offset": 0.856, "color": "#2a2a2a"}, {"offset": 0.864, "color": "#0f0f0f"}, {"offset": 0.872, "color": "#2a2a2a"}, {"offset": 0.88, "color": "#0f0f0f"}, {"offset": 0.888, "color": "#2a2a2a"}, {"offset": 0.896, "color": "#0f0f0f"}, {"offset": 0.904, "color": "#2a2a2a"}, {"offset": 0.912, "color": "#0f0f0f"}, {"offset": 0.92, "color": "#2a2a2a"}, {"offset": 0.928, "color": "#0f0f0f"}, {"offset": 0.936, "color": "#2a2a2a"}, {"offset": 0.944, "color": "#0f0f0f"}, {"offset": 0.952, "color": "#2a2a2a"}, {"offset": 0.96, "color": "#0f0f0f"}, {"offset": 0.968, "color": "#2a2a2a"}, {"offset": 0.976, "color": "#0f0f0f"}, {"offset": 0.984, "color": "#2a2a2a"}, {"offset": 0.992, "color": "#0f0f0f"},
              {"offset": 1, "color": "#2a2a2a"}
            ]}}
          },
          {
            "transform": [{"filter": "datum.group === 'yohimbine ob/ob'"}],
            "mark": {"type": "bar", "strokeWidth": 2, "stroke": "#8f8f8f", "fill": {"gradient": "linear", "x1": 0, "y1": 0, "x2": 1, "y2": 0, "stops": [
              {"offset": 0, "color": "#7c7c7c"}, {"offset": 0.02, "color": "#5a5a5a"}, {"offset": 0.04, "color": "#7c7c7c"}, {"offset": 0.06, "color": "#5a5a5a"}, {"offset": 0.08, "color": "#7c7c7c"}, {"offset": 0.1, "color": "#5a5a5a"}, {"offset": 0.12, "color": "#7c7c7c"}, {"offset": 0.14, "color": "#5a5a5a"}, {"offset": 0.16, "color": "#7c7c7c"}, {"offset": 0.18, "color": "#5a5a5a"}, {"offset": 0.2, "color": "#7c7c7c"}, {"offset": 0.22, "color": "#5a5a5a"}, {"offset": 0.24, "color": "#7c7c7c"}, {"offset": 0.26, "color": "#5a5a5a"}, {"offset": 0.28, "color": "#7c7c7c"}, {"offset": 0.3, "color": "#5a5a5a"}, {"offset": 0.32, "color": "#7c7c7c"}, {"offset": 0.34, "color": "#5a5a5a"}, {"offset": 0.36, "color": "#7c7c7c"}, {"offset": 0.38, "color": "#5a5a5a"}, {"offset": 0.4, "color": "#7c7c7c"}, {"offset": 0.42, "color": "#5a5a5a"}, {"offset": 0.44, "color": "#7c7c7c"}, {"offset": 0.46, "color": "#5a5a5a"}, {"offset": 0.48, "color": "#7c7c7c"}, {"offset": 0.5, "color": "#5a5a5a"}, {"offset": 0.52, "color": "#7c7c7c"}, {"offset": 0.54, "color": "#5a5a5a"}, {"offset": 0.56, "color": "#7c7c7c"}, {"offset": 0.58, "color": "#5a5a5a"}, {"offset": 0.6, "color": "#7c7c7c"}, {"offset": 0.62, "color": "#5a5a5a"}, {"offset": 0.64, "color": "#7c7c7c"}, {"offset": 0.66, "color": "#5a5a5a"}, {"offset": 0.68, "color": "#7c7c7c"}, {"offset": 0.7, "color": "#5a5a5a"}, {"offset": 0.72, "color": "#7c7c7c"}, {"offset": 0.74, "color": "#5a5a5a"}, {"offset": 0.76, "color": "#7c7c7c"}, {"offset": 0.78, "color": "#5a5a5a"}, {"offset": 0.8, "color": "#7c7c7c"}, {"offset": 0.82, "color": "#5a5a5a"}, {"offset": 0.84, "color": "#7c7c7c"}, {"offset": 0.86, "color": "#5a5a5a"}, {"offset": 0.88, "color": "#7c7c7c"}, {"offset": 0.9, "color": "#5a5a5a"}, {"offset": 0.92, "color": "#7c7c7c"}, {"offset": 0.94, "color": "#5a5a5a"}, {"offset": 0.96, "color": "#7c7c7c"}, {"offset": 0.98, "color": "#5a5a5a"}, {"offset": 1, "color": "#7c7c7c"}
            ]}}
          }
        ]
      }
    }
  ],
  "spacing": 59,
  "resolve": {"scale": {"fill": "independent", "stroke": "independent"}},
  "config": {
    "view": {"stroke": null},
    "font": "Liberation Sans",
    "axis": {"domainColor": "#000000", "tickColor": "#000000", "labelColor": "#000000", "titleColor": "#000000", "grid": false, "labelFont": "Liberation Sans", "titleFont": "Liberation Sans"},
    "axisY": {"domainWidth": 3, "tickWidth": 2.5, "tickSize": 7, "labelFontSize": 17, "labelFontWeight": "bold", "labelPadding": 2, "titleFontSize": 18, "titleFontWeight": "bold", "titlePadding": 27},
    "legend": {"columns": 2, "labelFontSize": 20, "labelFont": "Liberation Sans", "labelColor": "#111111", "labelLimit": 300,
               "symbolType": "M-1,-0.5H1V0.5H-1Z", "symbolSize": 961, "symbolStrokeWidth": 1.5, "labelOffset": 13, "columnPadding": 19, "rowPadding": 5}
  }
}
